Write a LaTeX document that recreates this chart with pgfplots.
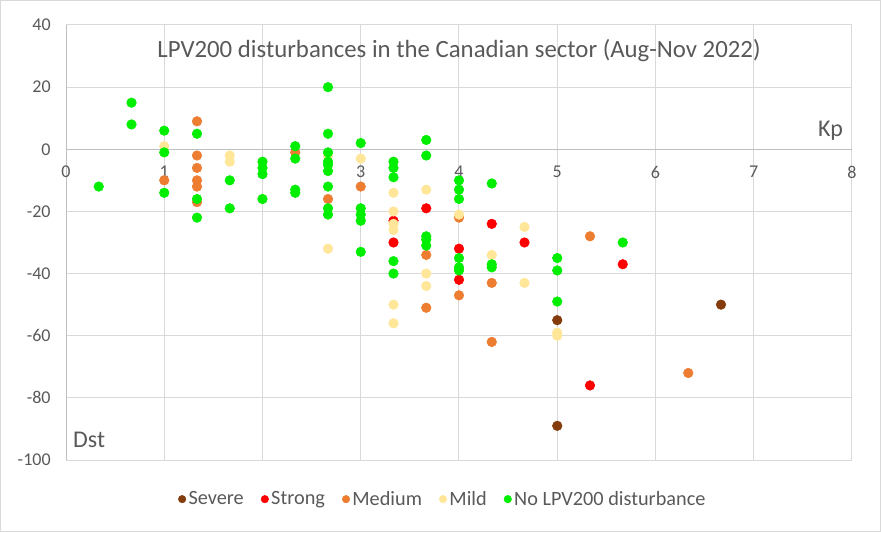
\documentclass[border=0pt]{standalone}
\usepackage{fontspec}
\setmainfont{Carlito}
\usepackage{pgfplots}
\pgfplotsset{compat=1.18}
\definecolor{sev}{RGB}{132,60,12}
\definecolor{str}{RGB}{255,0,0}
\definecolor{med}{RGB}{237,125,49}
\definecolor{mil}{RGB}{255,230,153}
\definecolor{non}{RGB}{0,238,0}
\definecolor{txt}{RGB}{89,89,89}
\definecolor{grd}{RGB}{217,217,217}
\definecolor{axl}{RGB}{191,191,191}
\begin{document}
\begin{tikzpicture}
\useasboundingbox (0,0) rectangle (660.75pt,399pt);
\draw[grd, line width=0.75pt] (0.6pt,0.6pt) rectangle (660.15pt,398.4pt);
\begin{axis}[
  at={(49.5pt,54pt)}, anchor=south west,
  scale only axis, width=589.5pt, height=326.25pt,
  xmin=0, xmax=8, ymin=-100, ymax=40,
  xtick={0,1,...,8}, ytick={-100,-80,...,40},
  axis x line=middle, axis y line=left,
  hide obscured x ticks=false, hide obscured y ticks=false,
  axis line style={draw=axl, line width=0.75pt, -},
  major tick length=0pt,
  grid=major, grid style={draw=grd, line width=0.75pt},
  tick label style={font=\fontsize{13.5}{15}\selectfont, text=txt},
  /pgf/number format/assume math mode=true,
  yticklabel style={xshift=-8pt},
  xticklabel style={yshift=-9pt},
  legend style={at={(0.48,-0.09)}, anchor=center, draw=none, fill=none,
    legend columns=-1, font=\fontsize{15.2}{17}\selectfont, text=txt,
    /tikz/every even column/.append style={column sep=11pt}},
  legend image code/.code={\draw[#1,mark size=2.8pt] plot coordinates {(0pt,0pt)};},
  clip=false,
]
\addplot[only marks, mark=*, mark size=3.6pt, color=sev] coordinates {
(5,-55) (5,-89) (6.6667,-50)};
\addlegendentry{Severe}
\addplot[only marks, mark=*, mark size=3.6pt, color=str] coordinates {
(3.3333,-23) (3.3333,-30) (3.6667,-19) (4,-32) (4,-42) (4.3333,-24) (4.6667,-30) (5.3333,-76) (5.6667,-37)};
\addlegendentry{Strong}
\addplot[only marks, mark=*, mark size=3.6pt, color=med] coordinates {
(1,-10) (1.3333,9) (1.3333,-2) (1.3333,-6) (1.3333,-10) (1.3333,-12) (1.3333,-17)
(2.3333,-1) (2.6667,-16) (3,-12) (3.6667,-34) (3.6667,-51) (4,-22) (4,-47)
(4.3333,-43) (4.3333,-62) (5.3333,-28) (6.3333,-72)};
\addlegendentry{Medium}
\addplot[only marks, mark=*, mark size=3.6pt, color=mil] coordinates {
(1,1) (1.6667,-2) (1.6667,-4) (2.6667,-32) (2.6667,-2) (3,-3) (3.3333,-14) (3.3333,-20)
(3.3333,-24) (3.3333,-26) (3.3333,-50) (3.3333,-56) (3.6667,-13) (3.6667,-40) (3.6667,-44)
(4,-21) (4.3333,-34) (4.6667,-25) (4.6667,-43) (5,-59) (5,-60)};
\addlegendentry{Mild}
\addplot[only marks, mark=*, mark size=3.6pt, color=non] coordinates {
(0.3333,-12) (0.6667,15) (0.6667,8) (1,6) (1,-1) (1,-14) (1.3333,5) (1.3333,-16) (1.3333,-22)
(1.6667,-10) (1.6667,-19) (2,-4) (2,-6) (2,-8) (2,-16) (2.3333,1) (2.3333,-3) (2.3333,-13)
(2.3333,-14) (2.6667,20) (2.6667,5) (2.6667,-1) (2.6667,-4) (2.6667,-5) (2.6667,-7)
(2.6667,-12) (2.6667,-19) (2.6667,-21) (3,2) (3,-19) (3,-21) (3,-23) (3,-33) (3.3333,-4)
(3.3333,-6) (3.3333,-9) (3.3333,-36) (3.3333,-40) (3.6667,3) (3.6667,-2) (3.6667,-28)
(3.6667,-29) (3.6667,-31) (4,-10) (4,-13) (4,-16) (4,-35) (4,-38) (4,-39) (4.3333,-11)
(4.3333,-37) (4.3333,-38) (5,-35) (5,-39) (5,-49) (5.6667,-30)};
\addlegendentry{No LPV200 disturbance}
\node[text=txt, font=\fontsize{18.6}{21}\selectfont] at (axis cs:4,31.8) {LPV200 disturbances in the Canadian sector (Aug-Nov 2022)};
\node[text=txt, font=\fontsize{18}{20}\selectfont, anchor=east, inner sep=0pt] at (axis cs:7.91,6) {Kp};
\node[text=txt, font=\fontsize{18}{20}\selectfont, anchor=west, inner sep=0pt] at (axis cs:0.07,-93.5) {Dst};
\end{axis}
\end{tikzpicture}
\end{document}
